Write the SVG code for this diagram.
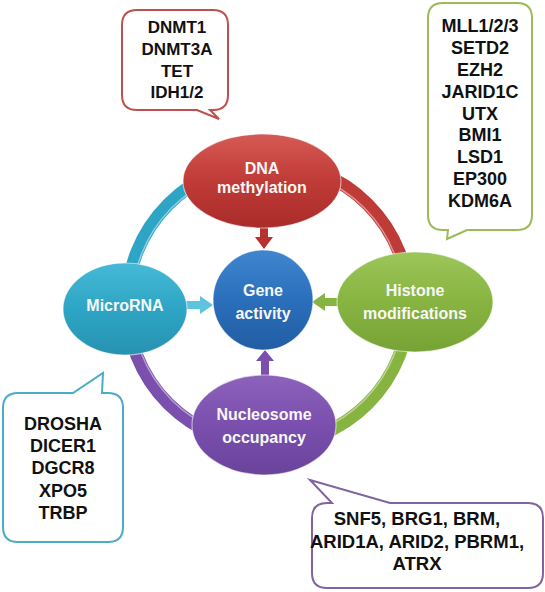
<svg xmlns="http://www.w3.org/2000/svg" width="545" height="592" viewBox="0 0 545 592">
<defs>
<linearGradient id="gRed" x1="0" y1="0" x2="0" y2="1"><stop offset="0" stop-color="#d65a55"/><stop offset="0.5" stop-color="#bf3b37"/><stop offset="1" stop-color="#a92c2a"/></linearGradient>
<linearGradient id="gBlue" x1="0" y1="0" x2="0" y2="1"><stop offset="0" stop-color="#3f86cf"/><stop offset="0.5" stop-color="#2a6fbb"/><stop offset="1" stop-color="#215da3"/></linearGradient>
<linearGradient id="gCyan" x1="0" y1="0" x2="0" y2="1"><stop offset="0" stop-color="#45b9d6"/><stop offset="0.5" stop-color="#2ea5c5"/><stop offset="1" stop-color="#2792b0"/></linearGradient>
<linearGradient id="gGreen" x1="0" y1="0" x2="0" y2="1"><stop offset="0" stop-color="#9cc65a"/><stop offset="0.5" stop-color="#87b441"/><stop offset="1" stop-color="#77a336"/></linearGradient>
<linearGradient id="gPurple" x1="0" y1="0" x2="0" y2="1"><stop offset="0" stop-color="#8c62bb"/><stop offset="0.5" stop-color="#7a4fae"/><stop offset="1" stop-color="#6a439a"/></linearGradient>
</defs>
<style>
.node{stroke:#ffffff;stroke-opacity:0.55;stroke-width:1.2}
.nt{font-family:"Liberation Sans",Arial,sans-serif;font-weight:bold;font-size:16px;fill:#f7f7f7;text-anchor:middle}
.ct{font-family:"Liberation Sans",Arial,sans-serif;font-weight:bold;fill:#111111;text-anchor:middle}
.call{fill:#ffffff;stroke-width:2}
.ring{fill:none;stroke-width:13}
.ringhl{fill:none;stroke-width:1.5;stroke:#ffffff;stroke-opacity:0.45}
</style>
<g id="connectors">
<path class="ring" stroke="#2ea5c5" d="M127,304 A141,141 0 0 1 268,163"/>
<path class="ring" stroke="#bf3b37" d="M268,163 A141,141 0 0 1 409,304"/>
<path class="ring" stroke="#87b441" d="M409,304 A141,141 0 0 1 268,445"/>
<path class="ring" stroke="#7a4fae" d="M268,445 A141,141 0 0 1 127,304"/>
<path class="ringhl" d="M132,304 A136,136 0 0 1 268,168 A136,136 0 0 1 404,304 A136,136 0 0 1 268,440 A136,136 0 0 1 132,304"/>
<polygon id="arrow-dna" fill="#b8332f" points="260,225 268,225 268,237 273,237 264,249 255,237 260,237"/>
<polygon id="arrow-mirna" fill="#5ec3dc" points="186,301 200,301 200,296 213,305 200,314 200,309 186,309"/>
<polygon id="arrow-histone" fill="#87b441" points="339,298 325,298 325,293 312,302 325,311 325,306 339,306"/>
<polygon id="arrow-nuc" fill="#7a4fae" points="261,377 269,377 269,361 274,361 265,350 256,361 261,361"/>
</g>
<g id="node-dna">
<ellipse class="node" cx="262" cy="181" rx="79" ry="47" fill="url(#gRed)"/>
<text class="nt" x="262" y="174">DNA</text>
<text class="nt" x="262" y="193">methylation</text>
</g>
<g id="node-gene">
<circle class="node" cx="263" cy="300" r="50" fill="url(#gBlue)"/>
<text class="nt" x="263" y="296">Gene</text>
<text class="nt" x="263" y="319">activity</text>
</g>
<g id="node-microrna">
<ellipse class="node" cx="125" cy="309" rx="62" ry="46" fill="url(#gCyan)"/>
<text class="nt" x="125" y="311">MicroRNA</text>
</g>
<g id="node-histone">
<ellipse class="node" cx="415" cy="302" rx="78" ry="50" fill="url(#gGreen)"/>
<text class="nt" x="415" y="296">Histone</text>
<text class="nt" x="415" y="319">modifications</text>
</g>
<g id="node-nucleosome">
<ellipse class="node" cx="264" cy="425" rx="72" ry="50" fill="url(#gPurple)"/>
<text class="nt" x="264" y="420">Nucleosome</text>
<text class="nt" x="264" y="443">occupancy</text>
</g>
<g id="callout-dna">
<path class="call" stroke="#c0504d" d="M137,10 H213 Q228,10 228,25 V95 Q228,110 213,110 H210 L219,119 L197,110 H137 Q122,110 122,95 V25 Q122,10 137,10 Z"/>
<text class="ct" font-size="17" x="177" y="33">DNMT1</text>
<text class="ct" font-size="17" x="177" y="55">DNMT3A</text>
<text class="ct" font-size="17" x="177" y="77">TET</text>
<text class="ct" font-size="17" x="177" y="98">IDH1/2</text>
</g>
<g id="callout-histone">
<path class="call" stroke="#9bbb59" d="M443,3 H517 Q532,3 532,18 V215 Q532,230 517,230 H467 L447,239 L448,230 H443 Q428,230 428,215 V18 Q428,3 443,3 Z"/>
<text class="ct" font-size="18" x="480" y="32">MLL1/2/3</text>
<text class="ct" font-size="18" x="480" y="54">SETD2</text>
<text class="ct" font-size="18" x="480" y="76">EZH2</text>
<text class="ct" font-size="18" x="480" y="98">JARID1C</text>
<text class="ct" font-size="18" x="480" y="120">UTX</text>
<text class="ct" font-size="18" x="480" y="141">BMI1</text>
<text class="ct" font-size="18" x="480" y="163">LSD1</text>
<text class="ct" font-size="18" x="480" y="185">EP300</text>
<text class="ct" font-size="18" x="480" y="207">KDM6A</text>
</g>
<g id="callout-microrna">
<path class="call" stroke="#4bacc6" d="M18,393 H73 L103,373 L102,393 H108 Q123,393 123,408 V527 Q123,542 108,542 H18 Q3,542 3,527 V408 Q3,393 18,393 Z"/>
<text class="ct" font-size="18" x="63" y="430">DROSHA</text>
<text class="ct" font-size="18" x="63" y="452">DICER1</text>
<text class="ct" font-size="18" x="63" y="474">DGCR8</text>
<text class="ct" font-size="18" x="63" y="497">XPO5</text>
<text class="ct" font-size="18" x="63" y="519">TRBP</text>
</g>
<g id="callout-nucleosome">
<path class="call" stroke="#8064a2" d="M327,503 H332 L310,480 L390,503 H528 Q543,503 543,518 V573 Q543,588 528,588 H327 Q312,588 312,573 V518 Q312,503 327,503 Z"/>
<text class="ct" font-size="18.5" x="417" y="525">SNF5, BRG1, BRM,</text>
<text class="ct" font-size="18.5" x="417" y="548">ARID1A, ARID2, PBRM1,</text>
<text class="ct" font-size="18.5" x="417" y="570">ATRX</text>
</g>
</svg>
